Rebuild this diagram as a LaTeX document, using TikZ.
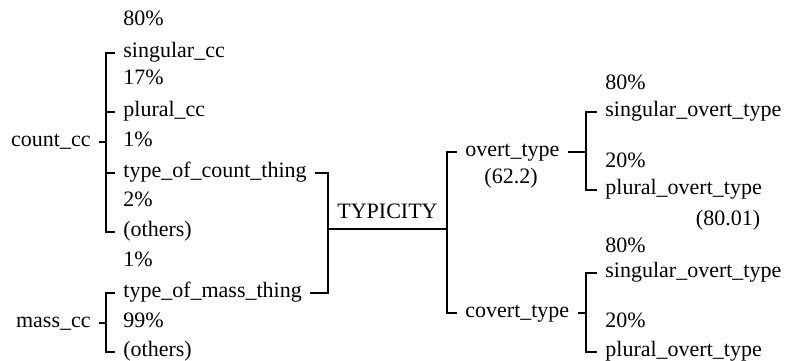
\documentclass[tikz,border=0pt]{standalone}
\usepackage{fontspec}
\setmainfont{Liberation Serif}
\usetikzlibrary{positioning}
\tikzset{
  leaf/.style={anchor=west, inner xsep=4pt, inner ysep=0pt,
    text height=1.5ex, text depth=0.5ex, font=\fontsize{11}{13}\selectfont},
  root/.style={leaf, anchor=east},
  note/.style={inner sep=0pt, font=\fontsize{11}{13}\selectfont},
  link/.style={line width=0.7pt}
}

\begin{document}
\begin{tikzpicture}[x=0.5pt, y=-0.5pt]
  \useasboundingbox (0,0) rectangle (789,360);

  % x positions of the bracket spines
  \coordinate (cspine) at (106,0);
  \coordinate (tspine) at (328,0);
  \coordinate (ospine) at (447,0);
  \coordinate (rspine) at (586,0);

  % left column
  \node[leaf] (p80a)   at (115,21)  {80\%};
  \node[leaf] (sgcc)   at (115,53)  {singular\_cc};
  \node[leaf] (p17)    at (115,80)  {17\%};
  \node[leaf] (plcc)   at (115,112) {plural\_cc};
  \node[leaf] (p1a)    at (115,142) {1\%};
  \node[leaf] (tcount) at (115,173) {type\_of\_count\_thing};
  \node[leaf] (p2)     at (115,202) {2\%};
  \node[leaf] (otha)   at (115,232) {(others)};
  \node[leaf] (p1b)    at (115,262) {1\%};
  \node[leaf] (tmass)  at (115,293) {type\_of\_mass\_thing};
  \node[leaf] (p99)    at (115,323) {99\%};
  \node[leaf] (othb)   at (115,352) {(others)};

  \node[root] (count) at (99,142) {count\_cc};
  \node[root] (mass)  at (99,323) {mass\_cc};

  % middle
  \node[leaf] (ot)  at (457,152) {overt\_type};
  \node[note] (otv) at (511,178) {(62.2)};
  \node[leaf] (ct)  at (457,313) {covert\_type};

  % right column
  \node[leaf] (q80a) at (597,85)  {80\%};
  \node[leaf] (sot)  at (597,112) {singular\_overt\_type};
  \node[leaf] (q20a) at (597,163) {20\%};
  \node[leaf] (pot)  at (597,190) {plural\_overt\_type};
  \node[note] (potv) at (728,220) {(80.01)};
  \node[leaf] (q80b) at (597,248) {80\%};
  \node[leaf] (sct)  at (597,273) {singular\_overt\_type};
  \node[leaf] (q20b) at (597,323) {20\%};
  \node[leaf] (pct)  at (597,352) {plural\_overt\_type};

  % count_cc bracket
  \draw[link] (count.east) -- (count.east -| cspine);
  \draw[link] (sgcc.west) -- (sgcc.west -| cspine) -- (otha.west -| cspine) -- (otha.west);
  \foreach \n in {plcc, tcount}
    \draw[link] (\n.west) -- (\n.west -| cspine);

  % mass_cc bracket
  \draw[link] (mass.east) -- (mass.east -| cspine);
  \draw[link] (tmass.west) -- (tmass.west -| cspine) -- (othb.west -| cspine) -- (othb.west);

  % TYPICITY
  \draw[link] (tcount.east) -- (tcount.east -| tspine) -- (tmass.east -| tspine) -- (tmass.east);
  \coordinate (tl) at (328,229);
  \coordinate (tr) at (447,229);
  \draw[link] (tl) -- node[note, above=5pt] (typ) {TYPICITY} (tr);
  \draw[link] (ot.west) -- (ot.west -| ospine) -- (ct.west -| ospine) -- (ct.west);

  % overt / covert brackets
  \draw[link] (ot.east) -- (ot.east -| rspine);
  \draw[link] (sot.west) -- (sot.west -| rspine) -- (pot.west -| rspine) -- (pot.west);
  \draw[link] (ct.east) -- (ct.east -| rspine);
  \draw[link] (sct.west) -- (sct.west -| rspine) -- (pct.west -| rspine) -- (pct.west);
\end{tikzpicture}
\end{document}
